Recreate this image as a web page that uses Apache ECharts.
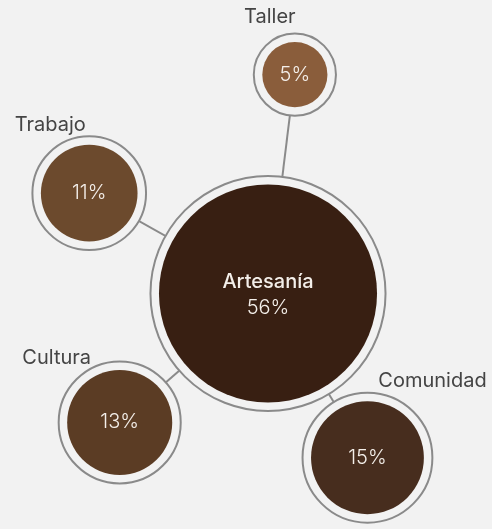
<!DOCTYPE html>
<html>
<head>
<meta charset="utf-8">
<title>Artesanía</title>
<style>
  html, body { margin: 0; padding: 0; background: #f2f2f2; }
  #chart { width: 492px; height: 529px; }
</style>
<script src="https://cdn.jsdelivr.net/npm/echarts@6/dist/echarts.min.js"></script>
</head>
<body>
<div id="chart"></div>
<script>
// Data: one hub theme and the themes around it, as shares in percent
const categories = ['Artesanía', 'Taller', 'Trabajo', 'Cultura', 'Comunidad'];
const shares = [56, 5, 11, 13, 15];

// Layout: each satellite sits on a spoke from the hub (bearing clockwise from north, length in px)
const bearing = [0, 7, 299.3, 229, 148.8];
const spokeLength = [0, 220.5, 205, 196.5, 192];
const nameOffsets = [[0, 0], [-25, -58], [-39, -68], [-63, -64], [65, -77]];

// Styles
const fills = ['#381f12', '#8a5d3b', '#6c4a2d', '#5b3c24', '#472d1e'];
const RING_COLOR = '#8a8a8a';
const BG = '#f2f2f2';
const FONT = 'Inter, "Noto Sans", sans-serif';
const PX_PER_SQRT = 14.57;   // circle area proportional to share
const RING_GAP = 8.5;

const radiusOf = v => PX_PER_SQRT * Math.sqrt(v);

const nodes = shares.map((v, i) => ({
  name: categories[i],
  value: [spokeLength[i], bearing[i], v]
}));

const spokes = nodes.slice(1).map((n, k) => ({
  type: 'line',
  coordinateSystem: 'polar',
  silent: true,
  symbol: 'none',
  z: 1,
  lineStyle: { color: RING_COLOR, width: 2 },
  data: [[0, bearing[k + 1]], [spokeLength[k + 1], bearing[k + 1]]]
}));

const chart = echarts.init(document.getElementById('chart'), null, { renderer: 'canvas' });

chart.setOption({
  backgroundColor: BG,
  animation: false,
  polar: { center: [268, 293.5], radius: 300 },
  radiusAxis: { type: 'value', min: 0, max: 300, show: false },
  angleAxis: { type: 'value', min: 0, max: 360, startAngle: 90, clockwise: true, show: false },
  series: [
    ...spokes,
    {
      // outer rings, carrying the theme names
      type: 'scatter',
      coordinateSystem: 'polar',
      silent: true,
      z: 2,
      symbol: 'circle',
      symbolSize: val => 2 * (radiusOf(val[2]) + RING_GAP),
      itemStyle: { color: BG, borderColor: RING_COLOR, borderWidth: 2, opacity: 1 },
      data: nodes.map((n, i) => ({
        name: n.name,
        value: n.value,
        label: {
          show: i !== 0,
          position: 'inside',
          offset: nameOffsets[i],
          formatter: '{b}',
          color: '#444444',
          fontFamily: FONT,
          fontSize: 20,
          fontWeight: 400
        }
      }))
    },
    {
      // filled circles with the shares
      type: 'scatter',
      coordinateSystem: 'polar',
      silent: true,
      z: 3,
      symbol: 'circle',
      symbolSize: val => 2 * radiusOf(val[2]),
      data: nodes.map((n, i) => ({
        name: n.name,
        value: n.value,
        itemStyle: { color: fills[i], opacity: 1 },
        label: i === 0 ? {
          show: true,
          position: 'inside',
          offset: [0, 1.5],
          formatter: p => '{name|' + p.name + '}\n{pct|' + p.value[2] + '%}',
          rich: {
            name: { color: '#f4efea', fontFamily: FONT, fontSize: 20, fontWeight: 500, lineHeight: 26 },
            pct: { color: '#f4efea', fontFamily: FONT, fontSize: 20, fontWeight: 300, lineHeight: 26 }
          }
        } : {
          show: true,
          position: 'inside',
          formatter: p => p.value[2] + '%',
          color: '#f4efea',
          fontFamily: FONT,
          fontSize: 20,
          fontWeight: 300
        }
      }))
    }
  ]
});
</script>
</body>
</html>
